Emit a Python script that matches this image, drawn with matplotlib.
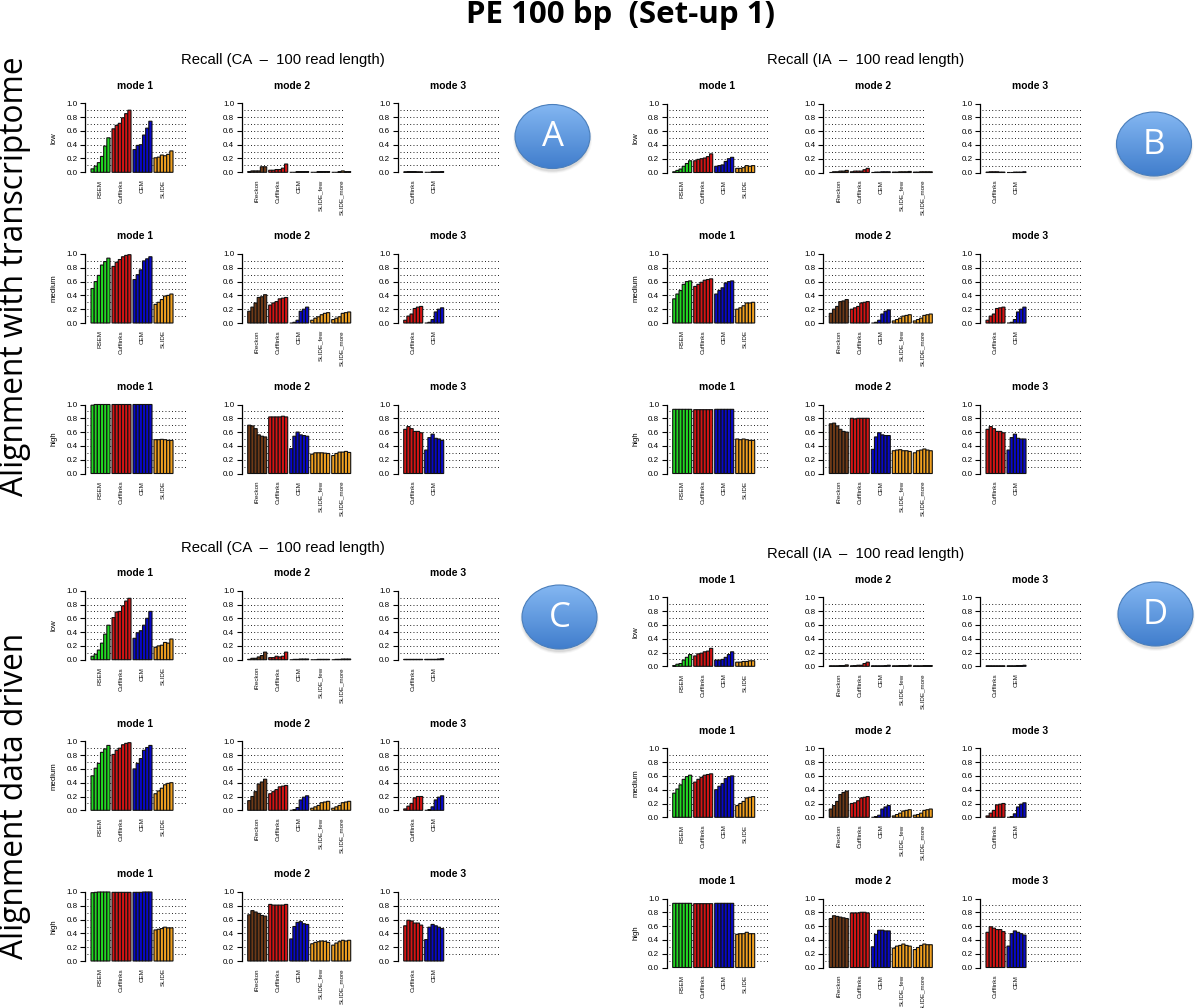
import numpy as np
import matplotlib
matplotlib.use('Agg')
import matplotlib.pyplot as plt
from matplotlib.patches import Ellipse

plt.rcParams['font.family'] = ['Liberation Sans', 'DejaVu Sans']

GROUPS_1 = ['RSEM', 'Cufflinks', 'CEM', 'SLIDE']
GROUPS_2 = ['iReckon', 'Cufflinks', 'CEM', 'SLIDE_few', 'SLIDE_more']
GROUPS_3 = ['Cufflinks', 'CEM']
LEVELS = ['low', 'medium', 'high']

COLORS = {'RSEM': '#22d822', 'Cufflinks': '#d41414', 'CEM': '#0808c8',
          'SLIDE': '#f0a020', 'SLIDE_few': '#f0a020', 'SLIDE_more': '#f0a020',
          'iReckon': '#6e3a18'}

# panel A
a_low_1 = [[.05, .09, .14, .23, .38, .50], [.63, .68, .71, .79, .85, .90],
           [.33, .39, .40, .54, .64, .74], [.21, .22, .25, .24, .26, .31]]
a_low_2 = [[.01, .02, .02, .02, .08, .08], [.03, .03, .04, .04, .06, .12],
           [.00, .00, .01, .01, .01, .01], [.00, .00, .01, .01, .01, .01],
           [.00, .00, .01, .02, .01, .01]]
a_low_3 = [[.005, .01, .01, .01, .005, .005], [.00, .00, .005, .005, .005, .01]]
a_med_1 = [[.50, .60, .69, .84, .89, .94], [.82, .88, .92, .96, .98, .99],
           [.63, .70, .77, .90, .93, .96], [.27, .30, .34, .39, .40, .42]]
a_med_2 = [[.17, .23, .29, .37, .38, .41], [.26, .29, .31, .35, .36, .37],
           [.00, .01, .04, .17, .20, .23], [.04, .07, .09, .12, .14, .15],
           [.05, .07, .09, .14, .15, .16]]
a_med_3 = [[.04, .10, .13, .21, .23, .24], [.00, .01, .05, .16, .20, .22]]
a_high_1 = [[.99, 1, 1, 1, 1, 1], [1, 1, 1, 1, 1, 1],
            [1, 1, 1, 1, 1, 1], [.49, .49, .495, .49, .48, .48]]
a_high_2 = [[.70, .69, .65, .56, .54, .53], [.82, .82, .82, .82, .83, .82],
            [.36, .54, .60, .56, .55, .54], [.28, .30, .30, .30, .295, .29],
            [.26, .29, .31, .31, .32, .305]]
a_high_3 = [[.64, .68, .65, .61, .61, .59], [.34, .52, .57, .51, .50, .48]]

# panel B
b_low_1 = [[.01, .03, .05, .09, .13, .17], [.17, .19, .20, .21, .23, .27],
           [.09, .10, .11, .16, .20, .22], [.06, .06, .07, .10, .09, .10]]
b_low_2 = [[.00, .01, .01, .02, .02, .03], [.01, .02, .02, .02, .04, .06],
           [.00, .005, .005, .01, .01, .01], [.005, .005, .01, .01, .01, .015],
           [.005, .005, .01, .01, .01, .01]]
b_low_3 = [[.005, .01, .01, .01, .005, .005], [.00, .00, .005, .005, .005, .01]]
b_med_1 = [[.35, .42, .47, .56, .60, .61], [.53, .56, .59, .62, .63, .64],
           [.42, .47, .51, .58, .60, .61], [.20, .22, .25, .29, .29, .30]]
b_med_2 = [[.14, .20, .24, .31, .32, .34], [.20, .22, .24, .29, .30, .31],
           [.00, .01, .04, .13, .17, .19], [.03, .05, .07, .10, .11, .12],
           [.03, .05, .07, .11, .12, .13]]
b_med_3 = [[.04, .10, .13, .21, .22, .23], [.00, .01, .05, .16, .20, .23]]
b_high_1 = [[.93, .93, .93, .93, .93, .93], [.925, .925, .925, .925, .925, .925],
            [.93, .93, .93, .93, .93, .93], [.50, .49, .50, .49, .48, .48]]
b_high_2 = [[.72, .73, .69, .64, .61, .60], [.80, .79, .80, .80, .80, .80],
            [.35, .53, .59, .56, .55, .55], [.33, .34, .345, .33, .33, .32],
            [.30, .33, .34, .355, .34, .33]]
b_high_3 = [[.64, .68, .65, .61, .61, .59], [.34, .52, .57, .51, .50, .50]]

# panel C
c_low_1 = [[.05, .08, .14, .24, .37, .50], [.61, .69, .70, .78, .85, .89],
           [.31, .39, .42, .50, .60, .70], [.18, .20, .21, .25, .24, .30]]
c_low_2 = [[.005, .02, .02, .04, .06, .11], [.03, .03, .05, .04, .05, .11],
           [.00, .005, .005, .01, .01, .01], [.00, .00, .005, .005, .005, .005],
           [.00, .005, .005, .01, .01, .01]]
c_low_3 = [[.005, .005, .005, .005, .005, .005], [.005, .005, .005, .005, .01, .015]]
c_med_1 = [[.50, .61, .68, .84, .89, .94], [.81, .87, .90, .95, .97, .98],
           [.60, .68, .75, .87, .91, .94], [.24, .28, .32, .37, .39, .40]]
c_med_2 = [[.14, .20, .27, .38, .41, .45], [.24, .27, .30, .34, .35, .36],
           [.00, .01, .04, .15, .19, .21], [.03, .05, .07, .11, .12, .13],
           [.03, .05, .07, .11, .12, .13]]
c_med_3 = [[.02, .06, .10, .18, .20, .20], [.00, .01, .05, .15, .19, .21]]
c_high_1 = [[.99, .995, 1, 1, 1, 1], [.995, .995, .995, .995, .995, .995],
            [.995, .995, .995, 1, 1, 1], [.45, .46, .47, .49, .48, .48]]
c_high_2 = [[.67, .73, .71, .69, .66, .65], [.82, .81, .81, .81, .81, .82],
            [.32, .50, .56, .57, .54, .53], [.25, .27, .28, .29, .285, .27],
            [.23, .26, .28, .30, .29, .30]]
c_high_3 = [[.51, .59, .58, .55, .55, .52], [.31, .49, .53, .51, .49, .47]]

# panel D
d_low_1 = [[.01, .03, .04, .09, .13, .17], [.15, .18, .19, .21, .22, .26],
           [.09, .09, .10, .13, .17, .21], [.06, .06, .07, .07, .08, .08]]
d_low_2 = [[.005, .005, .005, .01, .01, .02], [.005, .01, .015, .015, .04, .06],
           [.005, .005, .005, .005, .01, .015], [.005, .005, .01, .01, .01, .015],
           [.005, .005, .005, .01, .01, .01]]
d_low_3 = [[.005, .005, .005, .005, .005, .005], [.005, .005, .005, .01, .01, .015]]
d_med_1 = [[.35, .41, .47, .55, .59, .61], [.51, .55, .58, .61, .62, .63],
           [.40, .45, .49, .56, .59, .60], [.17, .20, .23, .28, .29, .30]]
d_med_2 = [[.12, .17, .23, .33, .36, .38], [.20, .21, .24, .28, .29, .30],
           [.00, .01, .03, .12, .15, .17], [.02, .04, .06, .09, .10, .11],
           [.03, .04, .06, .10, .11, .12]]
d_med_3 = [[.02, .06, .10, .18, .19, .20], [.00, .01, .05, .15, .19, .21]]
d_high_1 = [[.93, .93, .93, .93, .93, .93], [.925, .925, .925, .925, .925, .925],
            [.93, .93, .93, .93, .93, .93], [.48, .49, .49, .51, .49, .49]]
d_high_2 = [[.71, .75, .74, .73, .72, .71], [.79, .79, .79, .80, .80, .79],
            [.30, .48, .54, .54, .53, .53], [.28, .31, .32, .34, .32, .31],
            [.26, .29, .32, .34, .33, .33]]
d_high_3 = [[.51, .59, .57, .55, .55, .52], [.31, .49, .53, .51, .49, .47]]

W, H = 1200, 1008
fig = plt.figure(figsize=(W / 100, H / 100), dpi=100)
fig.patch.set_facecolor('white')


def draw_panel(x0, top, rows, show_level):
    # all sizes here are in figure pixels
    groups = [GROUPS_1, GROUPS_2, GROUPS_3][rows[2]]
    values = rows[0]
    ax = fig.add_axes([x0 / W, 1 - (top + 69) / H, 115 / W, 69 / H])
    ax.patch.set_alpha(0)
    ax.set_xlim(0, 115)
    ax.set_ylim(0, 1)
    for spine in ['top', 'right', 'bottom']:
        ax.spines[spine].set_visible(False)
    ax.spines['left'].set_linewidth(0.9)
    ax.spines['left'].set_bounds(0, 1)
    ax.set_yticks(np.arange(0, 1.01, 0.2))
    ax.set_yticklabels(['%.1f' % t for t in np.arange(0, 1.01, 0.2)], fontsize=5.8)
    ax.tick_params(axis='y', length=3.8, width=0.8, pad=1.6)
    ax.hlines(np.arange(0.1, 0.95, 0.1), 2, 102, colors='black', linestyles=(0, (1, 2.6)),
              linewidth=0.65, zorder=1)
    ticks = []
    for g, name in enumerate(groups):
        left = 6 + g * 21
        xs = [left + (i + 0.5) * 19 / 6 for i in range(6)]
        ax.bar(xs, values[g], width=19 / 6, color=COLORS[name], edgecolor='#111111',
               linewidth=0.8, zorder=2, clip_on=False, snap=False)
        ticks.append(left + 9.5)
    ax.set_xticks(ticks)
    ax.set_xticklabels(groups, rotation=90, fontsize=4.5, color='#111111')
    ax.tick_params(axis='x', length=0, pad=5.2)
    ax.text(50, 1.254, 'mode %d' % (rows[2] + 1), ha='center', va='center', fontsize=7.4,
            fontweight='bold')
    if show_level:
        ax.text(-31, 0.5, show_level, rotation=90, ha='center', va='center', fontsize=5.6)


def draw_block(x0s, tops, table):
    for r, top in enumerate(tops):
        for m, x0 in enumerate(x0s):
            level = LEVELS[r] if m == 0 else None
            draw_panel(x0, top, (table[r][m], r, m), level)


draw_block([85, 241.7, 397.7], [103.3, 254, 404.5],
           [[a_low_1, a_low_2, a_low_3], [a_med_1, a_med_2, a_med_3], [a_high_1, a_high_2, a_high_3]])
draw_block([666.7, 823.3, 980], [103.5, 254, 404.5],
           [[b_low_1, b_low_2, b_low_3], [b_med_1, b_med_2, b_med_3], [b_high_1, b_high_2, b_high_3]])
draw_block([85, 241.7, 397.7], [590.7, 741.3, 892],
           [[c_low_1, c_low_2, c_low_3], [c_med_1, c_med_2, c_med_3], [c_high_1, c_high_2, c_high_3]])
draw_block([666.7, 823.3, 980], [597.3, 748.3, 898.5],
           [[d_low_1, d_low_2, d_low_3], [d_med_1, d_med_2, d_med_3], [d_high_1, d_high_2, d_high_3]])

# overlay in pixel coordinates for headings and bubbles
over = fig.add_axes([0, 0, 1, 1], zorder=5)
over.patch.set_alpha(0)
over.axis('off')
over.set_xlim(0, W)
over.set_ylim(H, 0)

over.text(620.5, 15, 'PE 100 bp  (Set-up 1)', ha='center', va='center', fontsize=22.5,
          fontweight='bold', family='Open Sans')
over.text(15, 276, 'Alignment with transcriptome', rotation=90, ha='center', va='center',
          fontsize=22.8, family='Open Sans')
over.text(15, 796, 'Alignment data driven', rotation=90, ha='center', va='center',
          fontsize=22.8, family='Open Sans')

for x, y, label in [(283, 60, 'Recall (CA  \u2013  100 read length)'),
                    (866, 60, 'Recall (IA  \u2013  100 read length)'),
                    (283, 548, 'Recall (CA  \u2013  100 read length)'),
                    (866, 554, 'Recall (IA  \u2013  100 read length)')]:
    over.text(x, y, label, ha='center', va='center', fontsize=10.7)

shade = np.linspace(0, 1, 64).reshape(-1, 1, 1)
top_color = np.array([0.52, 0.72, 0.95]).reshape(1, 1, 3)
bottom_color = np.array([0.25, 0.49, 0.80]).reshape(1, 1, 3)
gradient = top_color * (1 - shade) + bottom_color * shade


def draw_bubble(cx, cy, label):
    for grow, alpha in [(4, 0.03), (2, 0.05), (0, 0.07)]:
        over.add_patch(Ellipse((cx, cy + 3), 75 + grow, 64 + grow, facecolor='black',
                               edgecolor='none', alpha=alpha, zorder=1))
    body = Ellipse((cx, cy), 75, 64, facecolor='none', edgecolor='#4a7ebb', linewidth=0.8,
                   zorder=3)
    over.add_patch(body)
    img = over.imshow(gradient, extent=(cx - 38, cx + 38, cy + 33, cy - 33), aspect='auto',
                      interpolation='bilinear', zorder=2)
    img.set_clip_path(body)
    over.text(cx, cy + 1, label, ha='center', va='center', color='white', fontsize=25,
              family='Open Sans', zorder=4)


draw_bubble(552.5, 136.5, 'A')
draw_bubble(1154, 144, 'B')
draw_bubble(559.5, 617, 'C')
draw_bubble(1155.5, 614, 'D')
over.set_xlim(0, W)
over.set_ylim(H, 0)

fig.savefig('out.png', dpi=100)
